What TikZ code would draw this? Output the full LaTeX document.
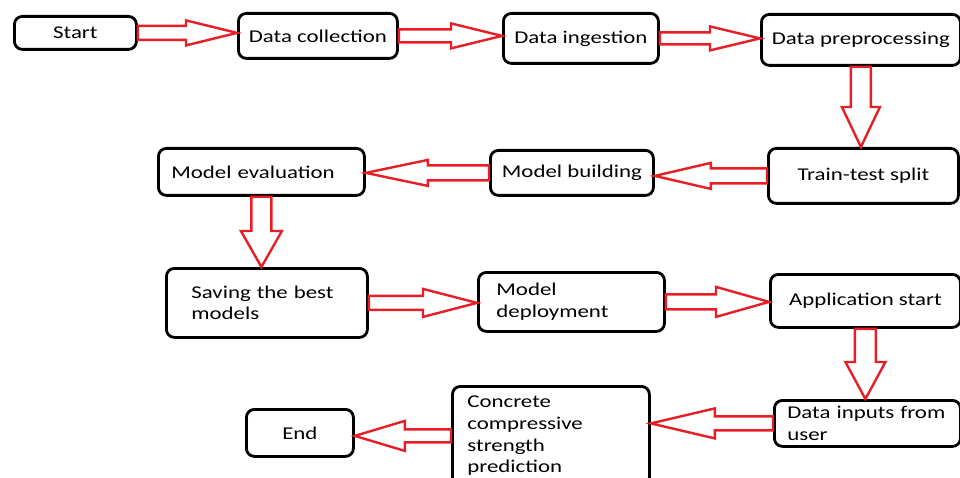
\documentclass[tikz,border=0pt]{standalone}
\usepackage{fontspec}
\setmainfont{Carlito}[FakeStretch=1.27]
\usepackage{tikz}
\usetikzlibrary{calc,positioning}
\definecolor{flowred}{RGB}{232,30,38}
\tikzstyle{stage} = [rectangle, rounded corners=8pt, draw=black, line width=2.8pt, fill=white,
  anchor=north west, inner ysep=1pt, align=center]
\tikzstyle{leftstage} = [stage, align=left]
\tikzstyle{blockarrow} = [draw=flowred, line width=2.4pt, fill=white, line join=miter]
% hollow block arrow: from, to, shaft half width, head half width, head length
\newcommand{\fatarrow}[5]{%
  \coordinate (fa) at (#1);
  \coordinate (fb) at (#2);
  \coordinate (hb) at ($(fb)!#5!(fa)$);
  \draw[blockarrow] ($(fa)!#3!90:(fb)$) -- ($(hb)!#3!90:(fb)$) -- ($(hb)!#4!90:(fb)$) -- (fb)
    -- ($(hb)!#4!-90:(fb)$) -- ($(hb)!#3!-90:(fb)$) -- ($(fa)!#3!-90:(fb)$) -- cycle;
}

\begin{document}
\begin{tikzpicture}[x=1pt, y=-1pt, font=\fontsize{18}{21.7}\selectfont]
        \useasboundingbox (0,0) rectangle (960,478);
        % Row 1 ------------------------------------------------------------------------------------
        \node[stage, minimum width=122pt, minimum height=33pt] (start) at (13,15) {Start};
        \node[stage, minimum width=159pt, minimum height=45pt] (collection) at (237,12) {Data collection};
        \node[stage, minimum width=155pt, minimum height=50pt] (ingestion) at (502,12) {Data ingestion};
        \node[stage, minimum width=199pt, minimum height=51pt, inner xsep=2pt] (preprocessing) at (760,13) {Data preprocessing};
        % Row 2 ------------------------------------------------------------------------------------
        \node[stage, minimum width=190pt, minimum height=55pt] (split) at (767,147) {Train-test split};
        \node[stage, minimum width=163pt, minimum height=45pt] (building) at (489,149) {Model building};
        \node[leftstage, minimum height=47pt, inner xsep=13pt, text width=180pt] (evaluation) at (157,147) {Model evaluation};
        % Row 3 ------------------------------------------------------------------------------------
        \node[leftstage, minimum height=69pt, inner xsep=25pt, text width=151pt] (saving) at (165,267) {Saving the best\\models};
        \node[leftstage, minimum height=59pt, inner xsep=18pt, text width=150pt] (deployment) at (477,271) {Model\\deployment};
        \node[stage, minimum width=190pt, minimum height=53pt] (application) at (769,273) {Application start};
        % Row 4 ------------------------------------------------------------------------------------
        \node[leftstage, minimum height=46pt, inner xsep=13pt, text width=160pt] (inputs) at (773,399) {Data inputs from\\user};
        \node[leftstage, minimum height=99pt, inner xsep=15pt, text width=167pt] (prediction) at (451,385) {Concrete\\compressive\\strength\\prediction};
        \node[stage, minimum width=107pt, minimum height=47pt] (finish) at (245,408) {End};
        % Arrows -----------------------------------------------------------------------------------
        \fatarrow{start.east}{start.east -| collection.west}{7pt}{12.5pt}{51pt}
        \fatarrow{collection.east}{collection.east -| ingestion.west}{6.5pt}{12.5pt}{51pt}
        \fatarrow{ingestion.east}{ingestion.east -| preprocessing.west}{6pt}{12pt}{50pt}
        \fatarrow{preprocessing.south}{preprocessing.south |- split.north}{10pt}{19pt}{40pt}
        \fatarrow{split.west}{split.west -| building.east}{7.5pt}{13pt}{56pt}
        \fatarrow{building.west}{building.west -| evaluation.east}{7.5pt}{13pt}{62pt}
        \fatarrow{evaluation.south}{evaluation.south |- saving.north}{10pt}{20.5pt}{36pt}
        \fatarrow{saving.east}{saving.east -| deployment.west}{7pt}{14pt}{54pt}
        \fatarrow{deployment.east}{deployment.east -| application.west}{7.5pt}{15pt}{53pt}
        \fatarrow{application.south}{application.south |- inputs.north}{10.5pt}{20pt}{37pt}
        \fatarrow{inputs.west}{inputs.west -| prediction.east}{7pt}{15pt}{64pt}
        \fatarrow{prediction.west}{prediction.west -| finish.east}{6.5pt}{15pt}{50pt}
\end{tikzpicture}
\end{document}
